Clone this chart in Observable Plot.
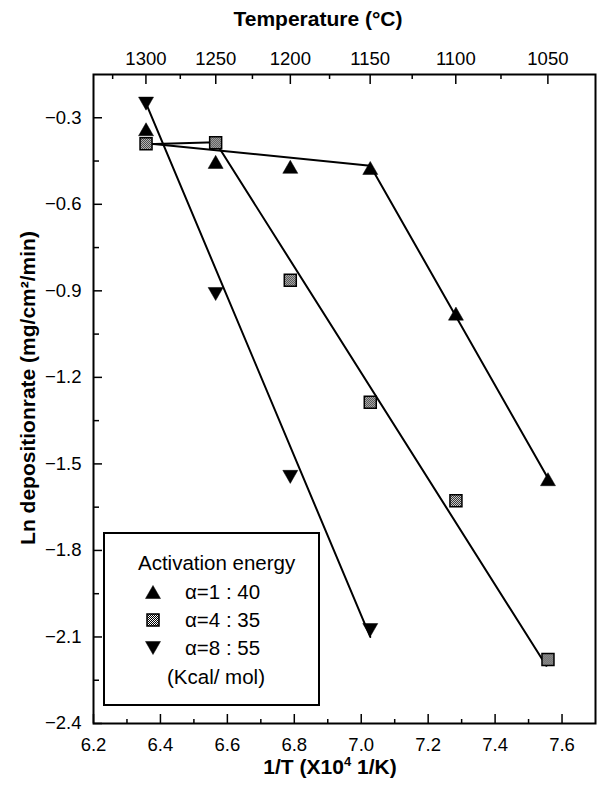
<!DOCTYPE html>
<html><head><meta charset="utf-8">
<script src="https://cdn.jsdelivr.net/npm/d3@7"></script>
<script src="https://cdn.jsdelivr.net/npm/@observablehq/plot@0.6"></script>
<style>
body{margin:0;background:#fff;}
#chart{position:relative;width:597px;height:785px;}
</style></head><body><div id="chart"></div>
<script>
// ---- data ----
const invT = [6.357, 6.565, 6.788, 7.027, 7.283, 7.558];       // 1/T (x10^4 1/K)
const alpha1 = [-0.34, -0.453, -0.47, -0.474, -0.979, -1.553];   // up triangles
const alpha4 = [-0.39, -0.387, -0.863, -1.286, -1.628, -2.178];  // squares
const alpha8 = [-0.251, -0.911, -1.545, -2.076];                 // down triangles
// fitted line vertices
const fit1X = [6.357, 7.027, 7.558], fit1Y = [-0.388, -0.466, -1.55];
const fit4X = [6.357, 6.565, 7.553], fit4Y = [-0.392, -0.385, -2.2];
const fit8X = [6.357, 7.027],        fit8Y = [-0.25, -2.1];
// axes
const xMajor = [6.2, 6.4, 6.6, 6.8, 7.0, 7.2, 7.4, 7.6];
const xMinor = [6.3, 6.5, 6.7, 6.9, 7.1, 7.3, 7.5];
const yMajor = [-0.3, -0.6, -0.9, -1.2, -1.5, -1.8, -2.1, -2.4];
const yMinor = [-0.45, -0.75, -1.05, -1.35, -1.65, -1.95, -2.25];
const tempMajor = [1300, 1250, 1200, 1150, 1100, 1050];
const tempMinor = [1325, 1275, 1225, 1175, 1125, 1075];
const legendTitle = "Activation energy";
const legendLabels = ["α=1 : 40", "α=4 : 35", "α=8 : 55"];
const legendUnit = "(Kcal/ mol)";

const toInv = t => 1e4 / (t + 273.15);
const W = 597, H = 785, mt = 74, mb = 62, ml = 93, mr = 2;
const plotH = H - mt - mb, plotW = W - ml - mr;
const FONT = "'Liberation Sans', Arial, Helvetica, sans-serif";

const triUp = {draw(ctx, size){const r = Math.sqrt(size/Math.PI); ctx.moveTo(0,-r*0.87); ctx.lineTo(r,r*0.87); ctx.lineTo(-r,r*0.87); ctx.closePath();}};
const triDown = {draw(ctx, size){const r = Math.sqrt(size/Math.PI); ctx.moveTo(0,r*0.87); ctx.lineTo(r,-r*0.87); ctx.lineTo(-r,-r*0.87); ctx.closePath();}};
const square = {draw(ctx, size){const r = Math.sqrt(size/Math.PI); ctx.rect(-r,-r,2*r,2*r);}};

const pts = (ys) => ys.map((y, i) => ({x: invT[i], y}));
const line = (xs, ys) => xs.map((x, i) => ({x, y: ys[i]}));

const plot = Plot.plot({
  width: W, height: H,
  marginTop: mt, marginBottom: mb, marginLeft: ml, marginRight: mr,
  style: {fontFamily: FONT, fontSize: "18px", color: "black", background: "white"},
  x: {domain: [6.2, 7.7]},
  y: {domain: [-2.4, -0.15]},
  marks: [
    // ticks (inward)
    Plot.ruleX(xMajor, {x: d => d, insetTop: plotH - 9, stroke: "black", strokeWidth: 1.5}),
    Plot.ruleX(xMinor, {x: d => d, insetTop: plotH - 4, stroke: "black", strokeWidth: 1.5}),
    Plot.ruleX(tempMajor.map(toInv), {x: d => d, insetBottom: plotH - 10, stroke: "black", strokeWidth: 1.5}),
    Plot.ruleX(tempMinor.map(toInv), {x: d => d, insetBottom: plotH - 5, stroke: "black", strokeWidth: 1.5}),
    Plot.ruleY(yMajor, {y: d => d, insetRight: plotW - 9, stroke: "black", strokeWidth: 1.5}),
    Plot.ruleY(yMinor, {y: d => d, insetRight: plotW - 6, stroke: "black", strokeWidth: 1.5}),
    // tick labels
    Plot.axisX({anchor: "bottom", ticks: xMajor, tickSize: 0, tickPadding: 14, tickFormat: d3.format(".1f"), label: null, fontSize: 18.5}),
    Plot.axisX({anchor: "top", ticks: tempMajor.map(toInv), tickSize: 0, tickPadding: 10,
      tickFormat: d => String(Math.round((1e4 / d - 273.15) / 5) * 5), label: null, fontSize: 18.5}),
    Plot.axisY({anchor: "left", ticks: yMajor, tickSize: 0, tickPadding: 12, tickFormat: d3.format(".1f"), label: null, fontSize: 18.5}),
    // fit lines
    Plot.line(line(fit1X, fit1Y), {x: "x", y: "y", stroke: "black", strokeWidth: 2}),
    Plot.line(line(fit4X, fit4Y), {x: "x", y: "y", stroke: "black", strokeWidth: 2}),
    Plot.line(line(fit8X, fit8Y), {x: "x", y: "y", stroke: "black", strokeWidth: 2}),
    // points
    Plot.dot(pts(alpha1), {x: "x", y: "y", symbol: triUp, r: 7.5, fill: "black", stroke: "black", strokeWidth: 0.5}),
    Plot.dot(pts(alpha4), {x: "x", y: "y", symbol: square, r: 6, fill: "url(#chk)", stroke: "black", strokeWidth: 1.5}),
    Plot.dot(pts(alpha8), {x: "x", y: "y", symbol: triDown, r: 7.5, fill: "black", stroke: "black", strokeWidth: 0.5}),
    Plot.frame({stroke: "black", strokeWidth: 2})
  ]
});

const svg = d3.select(plot);
const defs = svg.insert("defs", ":first-child");
const pat = defs.append("pattern").attr("id", "chk").attr("width", 2).attr("height", 2).attr("patternUnits", "userSpaceOnUse");
pat.append("rect").attr("width", 2).attr("height", 2).attr("fill", "#fff");
pat.append("rect").attr("width", 1).attr("height", 1).attr("fill", "#000");
pat.append("rect").attr("x", 1).attr("y", 1).attr("width", 1).attr("height", 1).attr("fill", "#000");

// axis titles
const g = svg.append("g").attr("font-family", FONT).attr("fill", "black");
g.append("text").attr("x", 318).attr("y", 26).attr("text-anchor", "middle")
  .attr("font-size", 21).attr("font-weight", "bold").text("Temperature (°C)");
const bt = g.append("text").attr("x", 330).attr("y", 774).attr("text-anchor", "middle")
  .attr("font-size", 21).attr("font-weight", "bold");
bt.append("tspan").text("1/T (X10");
bt.append("tspan").attr("font-size", 13).attr("dy", -8).text("4");
bt.append("tspan").attr("dy", 8).text(" 1/K)");
g.append("text").attr("transform", "translate(27,388) rotate(-90)").attr("text-anchor", "middle")
  .attr("dy", "0.36em").attr("font-size", 21).attr("font-weight", "bold").text("Ln depositionrate (mg/cm²/min)");

// legend
const LF = 20.5;
const lg = svg.append("g").attr("font-family", FONT).attr("font-size", LF).attr("fill", "black").attr("text-anchor", "start");
lg.append("rect").attr("x", 104).attr("y", 533).attr("width", 215).attr("height", 172)
  .attr("fill", "white").attr("stroke", "black").attr("stroke-width", 2);
lg.append("text").attr("x", 138).attr("y", 570).attr("text-anchor", "start").text(legendTitle);
const syms = [[triUp, "black", 0.5], [square, "url(#chk)", 1.5], [triDown, "black", 0.5]];
legendLabels.forEach((lab, i) => {
  const cy = 592 + i * 28;
  const [type, fill, sw] = syms[i];
  const rr = i === 1 ? 6 : 7.5;
  lg.append("path").attr("transform", `translate(153,${cy})`)
    .attr("d", d3.symbol().type(type).size(Math.PI * rr * rr)())
    .attr("fill", fill).attr("stroke", "black").attr("stroke-width", sw);
  lg.append("text").attr("x", 185).attr("y", cy + 7.3).attr("text-anchor", "start").text(lab);
});
lg.append("text").attr("x", 216).attr("y", 684).attr("text-anchor", "middle").text(legendUnit);

document.getElementById("chart").appendChild(plot);
</script>
</body></html>
